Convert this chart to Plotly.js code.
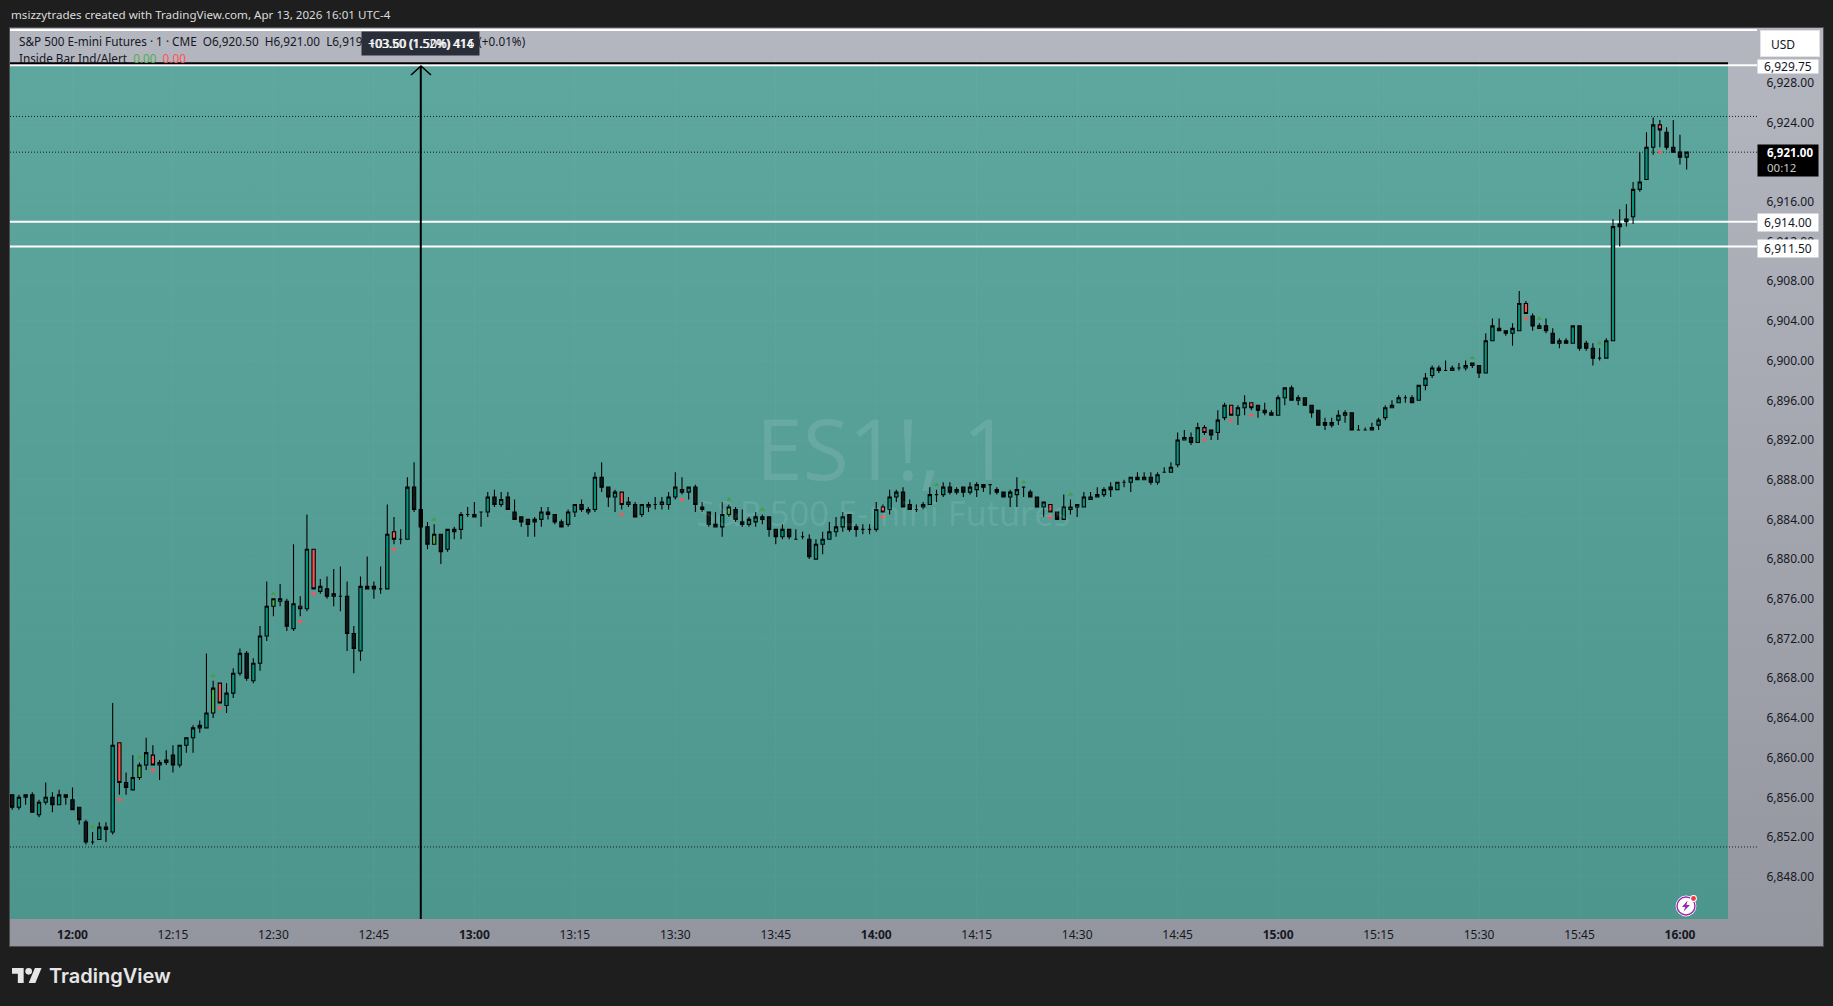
<!DOCTYPE html>
<html>
<head>
<meta charset="utf-8">
<script src="https://cdn.plot.ly/plotly-3.0.1.min.js"></script>
<style>
  html, body { margin: 0; padding: 0; background: #1e1e1e; overflow: hidden; }
  #frame { position: absolute; left: 9px; top: 27px; width: 1813px; height: 918px; border: 1px solid #4d4d4d;
           background: linear-gradient(#b4b6c0, #94969f); }
  #chart { position: absolute; left: 0; top: 0; width: 1833px; height: 1006px; }
</style>
</head>
<body>
<div id="frame"></div>
<div id="chart"></div>
<script>
// ES1! 1 minute bars, minutes since midnight, first bar 11:51
var firstBar = 711;
var opens = [
  6856.25,6855,6856,6856.25,6854.25,6855.5,6856,6855.25,6856.25,6855.75,
  6855,6853.5,6851.5,6851.75,6853,6852.5,6861.5,6857.5,6856.75,6858,
  6859.25,6860.25,6859.25,6859.5,6860.25,6859.25,6861.25,6862,6863,6863,
  6864.5,6867.5,6865.25,6866.5,6868.5,6870.5,6867.75,6869.5,6872.25,6875.25,
  6875.75,6875.75,6873,6875.25,6875,6881,6876.75,6877,6876.25,6876.25,
  6876.25,6872.5,6870.75,6877.25,6877,6877,6877,6882.75,6882,6882,
  6887.25,6885,6883.25,6881.5,6882.5,6881,6883,6883,6884.5,6884.5,
  6884.75,6884.75,6886.25,6885.5,6886.25,6884.75,6884.25,6884,6883.75,6884,
  6884.75,6884.5,6883.75,6883.5,6884.75,6885.5,6884.75,6885,6888.25,6887.25,
  6886.25,6886.75,6885.5,6885.5,6884.5,6885.25,6885.5,6885.5,6885.5,6886.25,
  6887,6886.75,6887.25,6885.25,6884.75,6883.25,6883.25,6884.5,6885,6883.75,
  6883.5,6883.75,6884,6884.25,6883,6882.25,6883,6882,6882.25,6882,
  6880,6881.5,6882,6882.75,6883.25,6884.5,6883.25,6883,6883,6883,
  6885.25,6885,6886.25,6886.75,6885.5,6885,6885.25,6885.5,6886.5,6886.5,
  6887.25,6886.75,6887.25,6886.75,6887,6887.5,6887.5,6887,6886.75,6886.25,
  6886.5,6887.25,6886.75,6886.25,6885.25,6885.5,6884.75,6884,6885,6885.25,
  6885.25,6886,6886.25,6886.5,6887,6887,6887.75,6887.75,6888.25,6888,
  6888.25,6887.75,6888.75,6888.75,6889.5,6892,6892.25,6891.75,6893.25,6893,
  6892.75,6894.25,6895.5,6894.5,6895.25,6895.75,6895.5,6895,6894.75,6894.5,
  6896.25,6897.25,6896,6896.25,6895.5,6895,6893.75,6893.5,6894,6894.5,
  6894.75,6893,6893,6893,6893.5,6894.25,6895.25,6895.75,6896.25,6896.25,
  6896,6897.5,6898.5,6899.25,6899,6899,6899.25,6899.25,6899.5,6899.5,
  6898.75,6902,6903.25,6903,6902.75,6903,6905.75,6904.5,6903.25,6903.5,
  6902.75,6901.75,6902,6901.75,6903.5,6901.75,6901.25,6900.25,6900.25,6902,
  6913.5,6914,6914.5,6917.25,6918.25,6921.5,6923.75,6923,6921.5,6921,6920.5
];
var highs = [
  6856.25,6856.25,6856.25,6856.5,6855.75,6857.5,6856.5,6856.75,6856.25,6857,
  6855,6853.75,6852.5,6853.5,6853.5,6865.5,6861.5,6858.5,6860.25,6859.5,
  6862,6861.25,6859.75,6860.75,6861.25,6861.25,6862,6863.25,6863.75,6870.5,
  6867.75,6867.5,6867.5,6869,6871,6870.75,6870,6873.25,6877.75,6876,
  6877.5,6876,6881.5,6876.25,6884.5,6881,6878,6878.25,6879,6879.25,
  6877.75,6873.25,6878.25,6880.25,6877.75,6879.25,6885.5,6884.25,6883,6888.25,
  6889.75,6885,6883.75,6883.5,6882.5,6883,6883.25,6884.75,6885.25,6885.75,
  6884.75,6886.75,6887,6886.75,6886.75,6886,6884.25,6884,6884.25,6885.25,
  6885.25,6884.5,6884,6885,6885.5,6886,6885.25,6888.75,6889.75,6887.25,
  6887,6886.75,6886.25,6885.75,6885.5,6885.75,6886.25,6886.25,6886.75,6888.75,
  6888.25,6887.25,6887.5,6885.75,6884.75,6884.75,6885.75,6885.5,6885.25,6885,
  6884.25,6884.75,6884.5,6884.25,6883,6883.5,6883,6883,6882.75,6882.5,
  6882,6882.75,6883.75,6884.25,6884.75,6884.5,6883.5,6883.5,6883.5,6885.75,
  6885.5,6887,6887,6887.25,6886,6885.5,6885.75,6887.25,6887,6887.75,
  6887.75,6887.25,6887.25,6887.75,6887.75,6887.5,6887.5,6887.25,6886.75,6887,
  6888.25,6887.25,6887,6886.25,6885.75,6885.5,6884.75,6886.5,6886,6885.5,
  6886.75,6886.75,6887.25,6887.25,6887.75,6887.75,6888,6888.25,6888.75,6888.75,
  6888.75,6888.75,6889.25,6889.75,6892.75,6893,6892.75,6893.75,6893.5,6893,
  6895,6895.75,6895.5,6895.5,6896.5,6895.75,6895.5,6895.75,6895,6896.5,
  6897.25,6897.5,6896.5,6896.25,6895.5,6895,6894.25,6894.25,6895,6895,
  6894.75,6893.5,6893.25,6893.75,6894.25,6895.5,6896,6896.5,6896.5,6896.5,
  6897.5,6898.75,6899.5,6899.5,6900,6899.5,6899.75,6900,6899.75,6899.5,
  6902.75,6904.25,6904.25,6903,6903.75,6907,6906,6904.75,6903.75,6904.25,
  6903.25,6902.25,6902.25,6903.5,6903.5,6902,6901.75,6901.25,6902.25,6914.25,
  6915.25,6915.75,6918,6921,6923,6924.5,6924.25,6923.5,6924.25,6922.75,6921
];
var lows = [
  6854.75,6854.75,6855.25,6854.5,6854,6855.25,6854.5,6855.25,6855.25,6854.75,
  6853.25,6851.25,6851.25,6851.75,6851.5,6852.25,6856.25,6856.25,6856.75,6857.75,
  6858.75,6859.25,6857.75,6859.25,6858.5,6859,6860.5,6860.5,6862.5,6863,
  6864,6865.5,6864.5,6866,6868.25,6867.75,6867.5,6868.75,6871.75,6874.25,
  6875.25,6872.75,6872.75,6874.25,6874.75,6877,6876.5,6876,6875.25,6874.75,
  6870.75,6868.5,6869.75,6877,6876,6876.5,6877,6881.5,6881.5,6882,
  6884.75,6883.25,6881,6881.5,6879.5,6880.75,6882,6882,6884.25,6884.25,
  6883.25,6884.25,6885.25,6885.25,6885,6884,6883.25,6882.25,6882.25,6883.25,
  6884,6883.5,6883.25,6883.25,6884.25,6884.75,6884.5,6884.75,6886.75,6885.25,
  6884.75,6885,6885.25,6884.25,6884.25,6884.75,6885,6885,6885,6886,
  6886.5,6886,6884.75,6884.75,6883.25,6883.25,6882.25,6884.25,6883.75,6883.25,
  6883.25,6883.25,6883.5,6882.25,6881.5,6882,6882,6882,6882,6880,
  6880,6880.5,6882,6882.25,6882.75,6882.75,6882.25,6882.5,6882.5,6882.75,
  6884.75,6884.5,6885.75,6885.25,6885,6884.75,6885,6885.5,6885.75,6886.25,
  6886.5,6886.5,6886.25,6886.5,6886.25,6886.75,6886.5,6886.5,6886.25,6885.25,
  6885.25,6886.25,6886.25,6885.25,6884.25,6884.75,6884,6884,6884.5,6884.25,
  6885.25,6886,6886.25,6886.25,6886.25,6887,6887.25,6886.75,6888,6888,
  6887.5,6887.5,6888.75,6888.75,6889.25,6892,6891.5,6891.75,6892.5,6892,
  6892,6894,6894.5,6893.5,6894.5,6895,6894.25,6894.5,6894.5,6894.5,
  6895.5,6896,6895.5,6895.5,6894.25,6893.5,6893,6893.25,6893.5,6893.75,
  6893,6893,6893,6893,6893,6894,6895.25,6895.75,6895.75,6895.75,
  6896,6897,6898.25,6898.75,6899,6899,6899,6899,6899.25,6898.25,
  6898.75,6902,6903,6902.5,6901.5,6903,6904.75,6903,6903.25,6902.75,
  6901.75,6901.25,6901.75,6901.75,6901,6901,6899.5,6900,6900.25,6902,
  6911.5,6913.5,6913.75,6917,6918.25,6920.75,6921.5,6921.25,6921,6919.75,6919.25
];
var closes = [
  6855,6856,6856.25,6854.5,6855.5,6856,6855.25,6856.25,6856,6854.75,
  6853.75,6851.5,6851.5,6853,6852.75,6861.25,6857.5,6857,6858,6859.25,
  6860.5,6859.25,6859.5,6859.75,6859.25,6861.25,6862,6863,6863.25,6864.5,
  6867,6865.5,6866.5,6868.5,6870.5,6868,6869.5,6872.25,6875.25,6876,
  6876,6873.25,6875.5,6875,6881,6877,6877.25,6876.25,6876.5,6876.25,
  6872.5,6871,6877.25,6877,6877.25,6877,6882.5,6882,6882,6887.25,
  6885,6883.25,6881.5,6882.5,6880.75,6883,6882.75,6884.5,6884.5,6884.25,
  6884.75,6886.25,6885.5,6886,6885,6884,6883.75,6883.5,6884,6884.75,
  6884.5,6883.75,6883.25,6884.75,6885.5,6885,6885,6888.25,6887.25,6886.25,
  6886.75,6885.5,6885.75,6884.25,6885.5,6885.5,6885.5,6885.75,6886.25,6887.25,
  6886.75,6887.25,6885.5,6885,6883.5,6883.5,6884.5,6885.25,6884,6883.5,
  6884,6884.25,6884.25,6883,6882.25,6883,6882.25,6882,6882.25,6880.25,
  6881.5,6882,6882.75,6883.25,6884.25,6883,6883,6883,6883,6885,
  6884.75,6886.25,6886.75,6885.25,6885,6885,6885.5,6886.5,6886.5,6887.25,
  6886.75,6887,6886.75,6887.25,6887.5,6887.25,6887.5,6886.75,6886.25,6886.75,
  6887,6887.25,6886.25,6885.25,6885.75,6884.75,6884,6885.25,6885.25,6885.5,
  6886.25,6886.25,6886.5,6887,6887.25,6887.75,6887.75,6888.25,6888,6888.25,
  6887.75,6888.5,6888.75,6889.25,6892,6892.25,6891.75,6893.25,6892.75,6892.5,
  6894,6895.5,6894.5,6895.25,6895.75,6895.25,6895,6894.75,6894.5,6896.25,
  6897.25,6896,6896.25,6895.5,6894.75,6893.5,6893.5,6893.75,6894.5,6894.75,
  6893,6893,6893,6893.25,6894,6895.25,6895.5,6896.25,6896.25,6895.75,
  6897.5,6898.25,6899.25,6899,6899,6899.25,6899.25,6899.5,6899.75,6898.75,
  6902,6903.5,6903,6902.75,6903.25,6905.75,6904.75,6903.5,6903.5,6903,
  6901.75,6902,6901.75,6903.5,6901.25,6901.25,6900.25,6900.25,6902,6913.5,
  6913.75,6914.25,6917.25,6918,6921.5,6923.75,6923.25,6921.5,6921,6920.5,6921
];
// bars flagged by the Inside Bar indicator
var redBars = [727,732,742,754,756,768,802,811,841,866,889,893,896,937,957];
var greenBars = [723,730,741,750,774,818,823,849,862,869,929,939,948];

var priceTicks = [6848,6852,6856,6860,6864,6868,6872,6876,6880,6884,6888,6892,6896,6900,6904,6908,6912,6916,6920,6924,6928];
var timeTicks = [720,735,750,765,780,795,810,825,840,855,870,885,900,915,930,945,960];
var timeLabels = ['<b>12:00</b>','12:15','12:30','12:45','<b>13:00</b>','13:15','13:30','13:45','<b>14:00</b>','14:15','14:30','14:45','<b>15:00</b>','15:15','15:30','15:45','<b>16:00</b>'];
var whiteLevels = [6933.3, 6929.75, 6914, 6911.5];
var dottedLevels = [6924.6, 6921, 6851];
var boxTopLevel = 6929.95;
var crossTime = 772;

var W = 1833, H = 1006;
var plotL = 10, plotR = 1757, plotT = 27, plotB = 919;
var font = 'Noto Sans, sans-serif';
var ink = '#16181f';

function px(x) { return (x - plotL) / (plotR - plotL); }
function py(y) { return (plotB - y) / (plotB - plotT); }

var times = opens.map(function (v, i) { return firstBar + i; });

function isRed(t) { return redBars.indexOf(t) >= 0; }
function isGreen(t) { return greenBars.indexOf(t) >= 0; }

function candles(name, fill, test) {
  function pick(arr) {
    return arr.map(function (v, i) { return test(times[i], i) ? v : null; });
  }
  var side = { fillcolor: fill, line: { color: '#000000', width: 1.1 } };
  return {
    type: 'candlestick', name: name, x: times,
    open: pick(opens), high: pick(highs), low: pick(lows), close: pick(closes),
    increasing: side, decreasing: side, hoverinfo: 'skip', showlegend: false
  };
}

function flagged(list, offset) {
  return list.map(function (t) {
    var i = t - firstBar;
    return offset > 0 ? highs[i] + offset : lows[i] + offset;
  });
}

var data = [
  candles('up', '#07907a', function (t, i) { return !isRed(t) && !isGreen(t) && closes[i] >= opens[i]; }),
  candles('down', '#0d1a18', function (t, i) { return !isRed(t) && !isGreen(t) && closes[i] < opens[i]; }),
  candles('inside down', '#ff5252', function (t) { return isRed(t); }),
  candles('inside up', '#4caf50', function (t) { return isGreen(t); }),
  { type: 'scatter', mode: 'markers', x: greenBars, y: flagged(greenBars, 0.5), hoverinfo: 'skip', showlegend: false,
    marker: { symbol: 'triangle-up', size: 5, color: '#43a047' } },
  { type: 'scatter', mode: 'markers', x: redBars, y: flagged(redBars, -0.5), hoverinfo: 'skip', showlegend: false,
    marker: { symbol: 'triangle-down', size: 5, color: '#ff5252' } }
];

var shapes = [];
whiteLevels.forEach(function (p) {
  shapes.push({ type: 'line', layer: 'below', xref: 'paper', x0: 0, x1: 1, yref: 'y', y0: p, y1: p, line: { color: '#ffffff', width: 2 } });
});
dottedLevels.forEach(function (p) {
  shapes.push({ type: 'line', layer: 'below', xref: 'paper', x0: 0, x1: 1, yref: 'y', y0: p, y1: p, line: { color: '#10201e', width: 1, dash: '1px,2px' } });
});
shapes.push({ type: 'line', layer: 'below', xref: 'paper', x0: 0, x1: px(1728), yref: 'y', y0: boxTopLevel, y1: boxTopLevel, line: { color: '#000000', width: 2 } });
shapes.push({ type: 'line', layer: 'above', xref: 'x', x0: crossTime, x1: crossTime, yref: 'paper', y0: 0, y1: py(66), line: { color: '#000000', width: 2 } });
// arrow head on top of the vertical line
shapes.push({ type: 'path', layer: 'above', xref: 'paper', yref: 'paper',
  path: 'M' + px(411) + ',' + py(75) + ' L' + px(421) + ',' + py(66) + ' L' + px(431) + ',' + py(75),
  line: { color: '#000000', width: 1.6 } });

function note(x, y, text, opts) {
  return Object.assign({
    xref: 'paper', yref: 'paper', x: px(x), y: py(y), text: text, showarrow: false,
    xanchor: 'left', yanchor: 'middle', font: { family: font, size: 12, color: ink }
  }, opts || {});
}
function tag(y0, y1, text) {
  return note(1788, (y0 + y1) / 2, text, {
    xanchor: 'center', width: 60, height: y1 - y0, bgcolor: '#ffffff', align: 'center', borderpad: 0, valign: 'middle'
  });
}

var legendFont = { family: font, size: 11.75, color: ink };
var legendLine = 'S&amp;P 500 E-mini Futures · 1 · CME  O6,920.50  H6,921.00  L6,919.25  C6,921.00  +0.50 (+0.01%)';
var tipFont = { family: font, size: 12, color: '#ffffff' };
var markFont = { family: 'Open Sans, sans-serif', size: 84, color: 'rgba(255,255,255,0.1)' };

var annotations = [
  note(883, 447, 'ES1!, 1', { xanchor: 'center', font: markFont }),
  note(883, 512, 'S&amp;P 500 E-mini Futures', { xanchor: 'center', font: { family: 'Open Sans, sans-serif', size: 34.5, color: 'rgba(255,255,255,0.1)' } }),
  note(9, 15, 'msizzytrades created with TradingView.com, Apr 13, 2026 16:01 UTC-4', { font: { family: font, size: 11.6, color: '#dcdcdc' } }),
  note(17, 41, legendLine, { font: legendFont }),
  note(17, 57.5, 'Inside Bar Ind/Alert  <span style="color:#4caf50">0.00</span>  <span style="color:#ff5252">0.00</span>', { font: legendFont }),
  note(420.5, 43.5, ' ', { xanchor: 'center', width: 117, height: 23, bgcolor: '#2a2e39', borderpad: 0 }),
  note(420.5, 43.5, '+03.50 (1.52%) 414', { xanchor: 'center', font: tipFont }),
  note(421.5, 43.5, '103.60 (1.50%) 416', { xanchor: 'center', font: tipFont }),
  note(1790, 43.5, ' ', { xanchor: 'center', width: 56, height: 23, bgcolor: '#ffffff', bordercolor: '#e4e4e8', borderwidth: 1 }),
  note(1769, 44, 'USD'),
  tag(60, 73, '6,929.75'),
  tag(214, 231, '6,914.00'),
  tag(240, 257, '6,911.50'),
  note(1788, 160.5, ' ', { xanchor: 'center', width: 60, height: 31, bgcolor: '#000000', borderpad: 0 }),
  note(1765, 152.5, '<b>6,921.00</b>', { font: { family: font, size: 11.5, color: '#ffffff' } }),
  note(1765, 167.5, '00:12', { font: { family: font, size: 11.5, color: '#c8c8c8' } }),
  note(47, 976, 'TradingView', { font: { family: 'Inter, sans-serif', size: 20, weight: 600, color: '#e6e6e6' } })
];

function svgUri(svg) { return 'data:image/svg+xml;charset=utf-8,' + encodeURIComponent(svg); }

var tealFill = svgUri('<svg xmlns="http://www.w3.org/2000/svg" width="10" height="10" preserveAspectRatio="none"><defs><linearGradient id="g" x1="0" y1="0" x2="0" y2="1"><stop offset="0" stop-color="#5ea79f"/><stop offset="1" stop-color="#4d968e"/></linearGradient></defs><rect width="10" height="10" fill="url(#g)"/></svg>');
var tvLogo = svgUri('<svg xmlns="http://www.w3.org/2000/svg" viewBox="0 4 36 18"><path fill="#e6e6e6" d="M14 22H7V11H0V4h14v18zM28 22h-8l7.5-18h8L28 22z"/><circle fill="#e6e6e6" cx="20" cy="8" r="4"/></svg>');
var boltIcon = svgUri('<svg xmlns="http://www.w3.org/2000/svg" viewBox="0 0 24 24"><circle cx="11" cy="13" r="10.4" fill="#ffffff"/><circle cx="11" cy="13" r="9" fill="#ffffff" stroke="#9c27b0" stroke-width="1.4"/><path fill="#9c27b0" d="M12.5 7.5 L7 14 H10.3 L8.5 18.5 L15 12 H11.5 Z"/><circle cx="18.5" cy="5.5" r="3.4" fill="#ffffff"/><circle cx="18.5" cy="5.5" r="2.4" fill="#f23645"/></svg>');

var images = [
  { source: tealFill, xref: 'paper', yref: 'paper', x: 0, y: py(66), sizex: px(1728), sizey: py(66), xanchor: 'left', yanchor: 'top', sizing: 'stretch', layer: 'below' },
  { source: tvLogo, xref: 'paper', yref: 'paper', x: px(12), y: py(968), sizex: px(42) - px(12), sizey: py(968) - py(983), xanchor: 'left', yanchor: 'top', sizing: 'stretch', layer: 'above' },
  { source: boltIcon, xref: 'paper', yref: 'paper', x: px(1675), y: py(893), sizex: px(1699) - px(1675), sizey: py(893) - py(917), xanchor: 'left', yanchor: 'top', sizing: 'stretch', layer: 'above' }
];

var layout = {
  width: W, height: H, autosize: false,
  margin: { l: plotL, r: W - plotR, t: plotT, b: H - plotB, pad: 0 },
  paper_bgcolor: 'rgba(0,0,0,0)', plot_bgcolor: 'rgba(0,0,0,0)',
  showlegend: false, hovermode: false, dragmode: false,
  xaxis: {
    type: 'linear', range: [710.67, 971.5], rangeslider: { visible: false },
    tickmode: 'array', tickvals: timeTicks, ticktext: timeLabels,
    showgrid: true, gridcolor: 'rgba(255,255,255,0.025)', zeroline: false, showline: false,
    ticks: 'outside', ticklen: 5, tickcolor: 'rgba(0,0,0,0)',
    tickfont: { family: font, size: 12, color: ink }
  },
  yaxis: {
    type: 'linear', side: 'right', range: [6843.74, 6933.61],
    tickmode: 'array', tickvals: priceTicks, tickformat: ',.2f',
    showgrid: true, gridcolor: 'rgba(255,255,255,0.02)', zeroline: false, showline: false,
    ticks: 'outside', ticklen: 6, tickcolor: 'rgba(0,0,0,0)',
    tickfont: { family: font, size: 12, color: ink }
  },
  shapes: shapes, annotations: annotations, images: images
};

Plotly.newPlot('chart', data, layout, { displayModeBar: false, staticPlot: true });
</script>
</body>
</html>
